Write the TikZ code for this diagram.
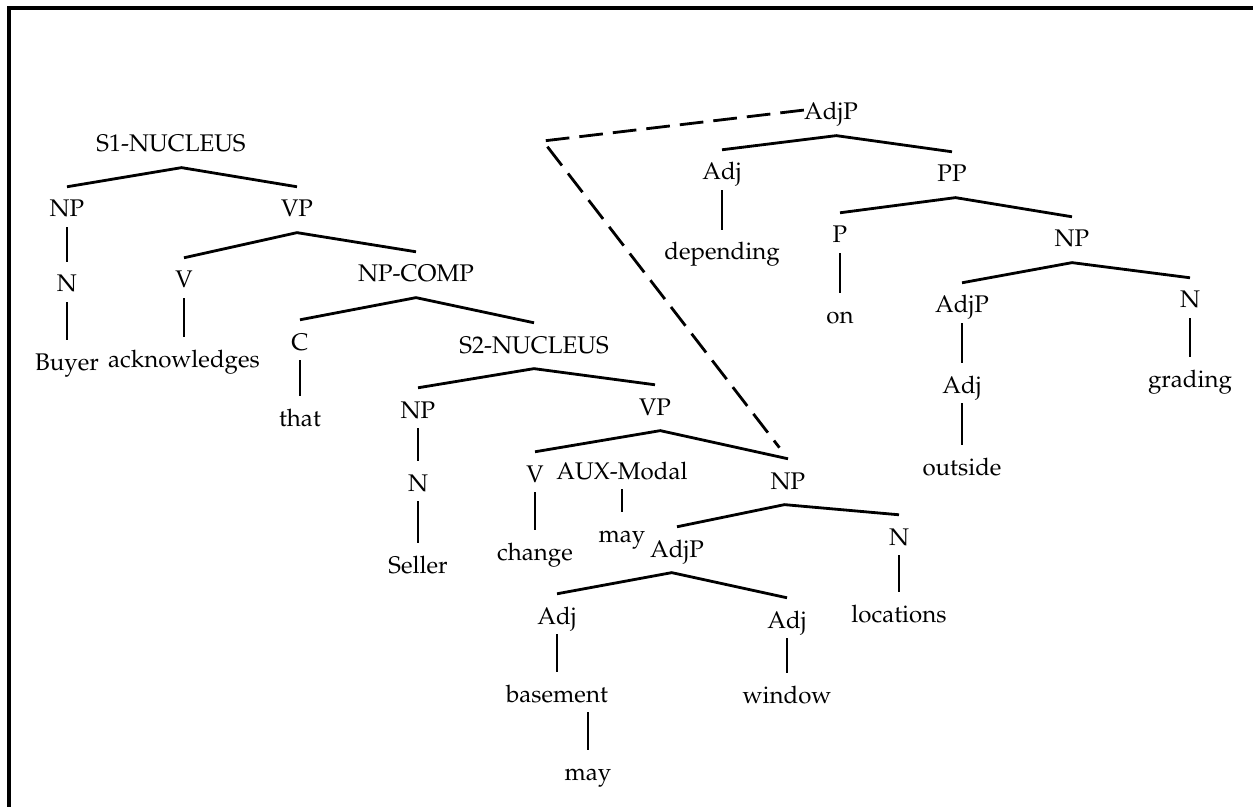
\documentclass[tikz,border=0pt]{standalone}
\usepackage[T1]{fontenc}
\usepackage{mathpazo}
\tikzset{
  lbl/.style={anchor=base,inner xsep=0pt,inner ysep=5.5pt,text height=11.5pt,text depth=0.2pt,font=\fontsize{13.7}{16}\selectfont},
  edge/.style={line width=1.6pt},
  frame/.style={line width=2pt},
  trace/.style={line width=1.6pt,dash pattern=on 13.5pt off 5.7pt}
}
\begin{document}
\begin{tikzpicture}[x=0.02cm,y=-0.02cm]
    \useasboundingbox (0,0) rectangle (1253,807);
    %% frame
    \draw[frame] (9,807) -- (9,8) -- (1253,8);
    %% main clause
    \node[lbl] (s1) at (171,152) {S1-NUCLEUS};
    \node[lbl] (np1) at (67,217) {NP};
    \node[lbl] (vp1) at (297,217) {VP};
    \node[lbl] (n1) at (67,292) {N};
    \node[lbl] (buyer) at (67,370) {Buyer};
    \node[lbl] (v1) at (184,288) {V};
    \node[lbl] (ackn) at (184,367) {acknowledges};
    \node[lbl] (npcomp) at (416,282) {NP-COMP};
    \node[lbl] (c1) at (300,350) {C};
    \node[lbl] (that) at (300,426) {that};
    %% embedded clause
    \node[lbl] (s2) at (534,353) {S2-NUCLEUS};
    \node[lbl] (np2) at (418,418) {NP};
    \node[lbl] (n2) at (418,491) {N};
    \node[lbl] (seller) at (418,573) {Seller};
    \node[lbl] (vp2) at (655,415) {VP};
    \node[lbl] (v2) at (535,482) {V};
    \node[lbl] (change) at (535,560) {change};
    \node[lbl] (aux) at (622,479) {AUX-Modal};
    \node[lbl] (may1) at (622,542) {may};
    \node[lbl] (np3) at (788,489) {NP};
    \node[lbl] (adjp1) at (677,557) {AdjP};
    \node[lbl] (n3) at (899,545) {N};
    \node[lbl] (loc) at (899,622) {locations};
    \node[lbl] (adj1) at (557,624) {Adj};
    \node[lbl] (basement) at (557,702) {basement};
    \node[lbl] (may2) at (588,780) {may};
    \node[lbl] (adj2) at (787,628) {Adj};
    \node[lbl] (window) at (787,703) {window};
    %% attached AdjP
    \node[lbl] (adjp0) at (831,120) {AdjP};
    \node[lbl] (adj0) at (722,180) {Adj};
    \node[lbl] (depend) at (722,260) {depending};
    \node[lbl] (pp) at (952,182) {PP};
    \node[lbl] (p) at (840,243) {P};
    \node[lbl] (on) at (840,323) {on};
    \node[lbl] (np4) at (1072,247) {NP};
    \node[lbl] (adjp2) at (962,313) {AdjP};
    \node[lbl] (adj3) at (962,393) {Adj};
    \node[lbl] (outside) at (962,475) {outside};
    \node[lbl] (n4) at (1190,308) {N};
    \node[lbl] (grading) at (1190,387) {grading};
    %% branches
    \draw[edge] (np1.north) -- ([xshift=6pt,yshift=-3pt]s1.south) -- (vp1.north);
    \draw[edge] (v1.north) -- ([yshift=-3pt]vp1.south) -- (npcomp.north);
    \draw[edge] (c1.north) -- ([yshift=-3pt]npcomp.south) -- (s2.north);
    \draw[edge] (np2.north) -- ([yshift=-3pt]s2.south) -- (vp2.north);
    \draw[edge] (v2.north) -- ([xshift=3pt,yshift=-3pt]vp2.south) -- (np3.north);
    \draw[edge] (adjp1.north) -- ([xshift=-2pt,yshift=-3pt]np3.south) -- (n3.north);
    \draw[edge] (adj1.north) -- ([xshift=-3pt,yshift=-3pt]adjp1.south) -- (adj2.north);
    \draw[edge] (adj0.north) -- ([xshift=3pt,yshift=-3pt]adjp0.south) -- (pp.north);
    \draw[edge] (p.north) -- ([xshift=2pt,yshift=-3pt]pp.south) -- (np4.north);
    \draw[edge] (adjp2.north) -- ([yshift=-3pt]np4.south) -- (n4.north);
    %% unary
    \draw[edge] (np1) -- (n1);
    \draw[edge] (n1) -- (buyer);
    \draw[edge] (v1) -- (ackn);
    \draw[edge] (c1) -- (that);
    \draw[edge] (np2) -- (n2);
    \draw[edge] (n2) -- (seller);
    \draw[edge] (v2) -- (change);
    \draw[edge] (aux.south) -- (aux.south |- may1.north);
    \draw[edge] (n3) -- (loc);
    \draw[edge] (adj1) -- (basement);
    \draw[edge] (may2.north) -- (may2.north |- basement.south);
    \draw[edge] (adj2) -- (window);
    \draw[edge] (adj0) -- (depend);
    \draw[edge] (p) -- (on);
    \draw[edge] (adjp2) -- (adj3);
    \draw[edge] (adj3) -- (outside);
    \draw[edge] (n4) -- (grading);
    %% attachment
    \coordinate (bend) at (543,141);
    \draw[trace,shorten >=8pt] (adjp0.west) -- (bend) -- (np3.north);
\end{tikzpicture}
\end{document}
